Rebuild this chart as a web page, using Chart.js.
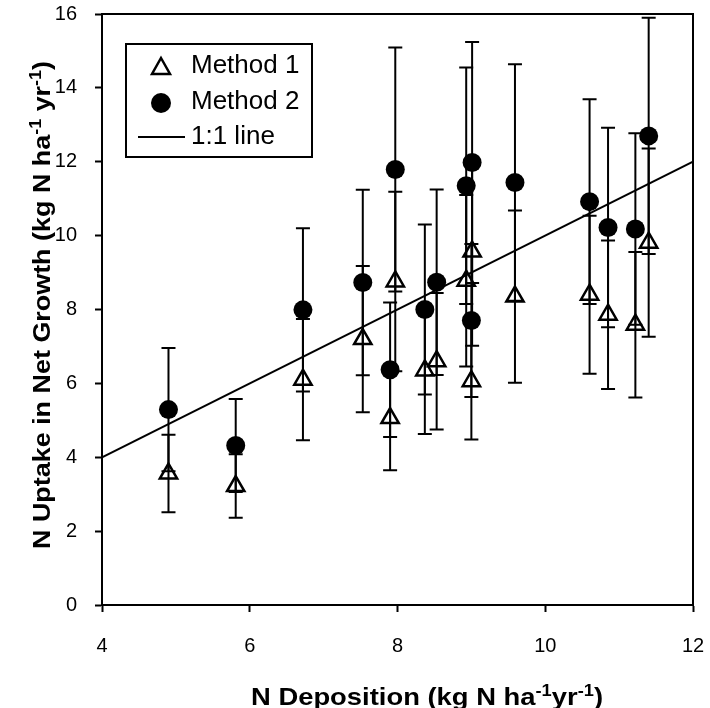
<!DOCTYPE html>
<html>
<head>
<meta charset="utf-8">
<script src="https://cdn.jsdelivr.net/npm/chart.js@4.4.1/dist/chart.umd.min.js"></script>
<style>
  html, body { margin: 0; padding: 0; background: #fff; }
  #wrap { width: 710px; height: 708px; }
</style>
</head>
<body>
<div id="wrap"><canvas id="chart" width="710" height="708"></canvas></div>
<script>
// N deposition (x) for each site
const deposition = [4.90, 5.81, 6.72, 7.53, 7.97, 7.90, 8.37, 8.53, 8.93, 9.01, 9.00, 9.59, 10.60, 10.85, 11.22, 11.40];
// Method 1 (open triangles) and its error
const method1 = [3.56, 3.22, 6.10, 7.20, 8.76, 5.06, 6.35, 6.60, 8.78, 9.57, 6.06, 8.35, 8.40, 7.86, 7.59, 9.81];
const method1Err = [1.05, 0.86, 1.64, 1.98, 2.43, 1.41, 1.72, 1.85, 2.32, 2.55, 1.58, 2.33, 2.14, 2.01, 1.97, 2.55];
// Method 2 (filled circles) and its error
const method2 = [5.29, 4.32, 7.99, 8.73, 11.79, 6.37, 8.00, 8.74, 11.35, 11.98, 7.70, 11.44, 10.92, 10.22, 10.18, 12.70];
const method2Err = [1.67, 1.26, 2.21, 2.51, 3.30, 1.82, 2.30, 2.51, 3.20, 3.26, 2.07, 3.20, 2.77, 2.70, 2.59, 3.20];
// 1:1 line end points
const lineX = [4, 12];
const lineY = [4, 12];
// axis ticks
const xTicks = [4, 6, 8, 10, 12];
const yTicks = [0, 2, 4, 6, 8, 10, 12, 14, 16];

const FONT = "'Liberation Sans', Arial, sans-serif";

const toPoints = (xs, ys) => xs.map((x, i) => ({ x: x, y: ys[i] }));

// error bars, drawn from the scales
const errorBars = {
  id: 'errorBars',
  afterDatasetsDraw(chart) {
    const ctx = chart.ctx;
    const xs = chart.scales.x, ys = chart.scales.y;
    ctx.save();
    ctx.strokeStyle = '#000';
    ctx.lineWidth = 2;
    chart.data.datasets.forEach((ds) => {
      if (!ds.errors) return;
      ds.data.forEach((p, i) => {
        const px = xs.getPixelForValue(p.x);
        const top = ys.getPixelForValue(p.y + ds.errors[i]);
        const bot = ys.getPixelForValue(p.y - ds.errors[i]);
        ctx.beginPath();
        ctx.moveTo(px, top); ctx.lineTo(px, bot);
        ctx.moveTo(px - 7, top); ctx.lineTo(px + 7, top);
        ctx.moveTo(px - 7, bot); ctx.lineTo(px + 7, bot);
        ctx.stroke();
      });
    });
    ctx.restore();
  }
};

function drawRich(ctx, parts, width) {
  let natural = 0;
  parts.forEach(p => {
    ctx.font = p.sup ? 'bold 16px ' + FONT : 'bold 24px ' + FONT;
    natural += ctx.measureText(p.t).width;
  });
  const sx = width / natural;
  ctx.scale(sx, 1);
  let x = -natural / 2;
  parts.forEach(p => {
    ctx.font = p.sup ? 'bold 16px ' + FONT : 'bold 24px ' + FONT;
    ctx.fillText(p.t, x, p.sup ? -9 : 0);
    x += ctx.measureText(p.t).width;
  });
}

// frame, axis titles and legend box
const decorations = {
  id: 'decorations',
  afterDraw(chart) {
    const ctx = chart.ctx;
    const a = chart.chartArea;
    ctx.save();
    ctx.strokeStyle = '#000';
    ctx.lineWidth = 2;
    ctx.strokeRect(a.left, a.top, a.right - a.left, a.bottom - a.top);

    ctx.fillStyle = '#000';
    ctx.textBaseline = 'alphabetic';
    ctx.textAlign = 'left';
    ctx.save();
    ctx.translate(427, 705);
    drawRich(ctx, [
      { t: 'N Deposition (kg N ha' }, { t: '-1', sup: true }, { t: 'yr' },
      { t: '-1', sup: true }, { t: ')' }
    ], 352);
    ctx.restore();

    ctx.save();
    ctx.translate(50, 305);
    ctx.rotate(-Math.PI / 2);
    drawRich(ctx, [
      { t: 'N Uptake in Net Growth (kg N ha' }, { t: '-1', sup: true }, { t: ' yr' },
      { t: '-1', sup: true }, { t: ')' }
    ], 488);
    ctx.restore();

    // legend
    ctx.fillStyle = '#fff';
    ctx.fillRect(126, 44, 186, 113);
    ctx.strokeRect(126, 44, 186, 113);
    ctx.fillStyle = '#000';
    ctx.font = '26px ' + FONT;
    ctx.textBaseline = 'middle';
    ctx.fillText('Method 1', 191, 66);
    ctx.fillText('Method 2', 191, 102);
    ctx.fillText('1:1 line', 191, 137);
    // triangle
    ctx.beginPath();
    ctx.moveTo(161, 58); ctx.lineTo(170, 74); ctx.lineTo(152, 74); ctx.closePath();
    ctx.lineWidth = 2.5;
    ctx.stroke();
    // circle
    ctx.beginPath();
    ctx.arc(161, 103, 10, 0, Math.PI * 2);
    ctx.fill();
    // line
    ctx.lineWidth = 2;
    ctx.beginPath();
    ctx.moveTo(138, 137); ctx.lineTo(185, 137);
    ctx.stroke();
    ctx.restore();
  }
};

const axisStyle = {
  type: 'linear',
  grid: { drawOnChartArea: false, drawTicks: true, tickLength: 7, tickColor: '#000', tickWidth: 2 },
  border: { display: true, color: '#000', width: 2 },
};

new Chart(document.getElementById('chart').getContext('2d'), {
  type: 'scatter',
  data: {
    datasets: [
      {
        label: '1:1 line',
        type: 'line',
        data: toPoints(lineX, lineY),
        borderColor: '#000',
        borderWidth: 2,
        pointRadius: 0,
        fill: false,
      },
      {
        label: 'Method 1',
        data: toPoints(deposition, method1),
        errors: method1Err,
        pointStyle: 'triangle',
        pointRadius: 10,
        borderColor: '#000',
        borderWidth: 2.5,
        backgroundColor: 'rgba(0,0,0,0)',
      },
      {
        label: 'Method 2',
        data: toPoints(deposition, method2),
        errors: method2Err,
        pointStyle: 'circle',
        pointRadius: 9.5,
        borderWidth: 0,
        backgroundColor: '#000',
      },
    ],
  },
  options: {
    responsive: false,
    animation: false,
    layout: { padding: { top: 14, right: 17, left: 0, bottom: 0 } },
    plugins: { legend: { display: false }, tooltip: { enabled: false } },
    scales: {
      x: Object.assign({}, axisStyle, {
        min: 4, max: 12,
        afterBuildTicks: (s) => { s.ticks = xTicks.map(v => ({ value: v })); },
        afterFit: (s) => { s.height = 103; s.paddingLeft = 0; s.paddingRight = 0; },
        ticks: { color: '#000', padding: 22, font: { family: FONT, size: 20 } },
      }),
      y: Object.assign({}, axisStyle, {
        min: 0, max: 16,
        afterBuildTicks: (s) => { s.ticks = yTicks.map(v => ({ value: v })); },
        afterFit: (s) => { s.width = 102; s.paddingTop = 0; s.paddingBottom = 0; },
        ticks: { color: '#000', padding: 18, font: { family: FONT, size: 20 } },
      }),
    },
  },
  plugins: [errorBars, decorations],
});
</script>
</body>
</html>
